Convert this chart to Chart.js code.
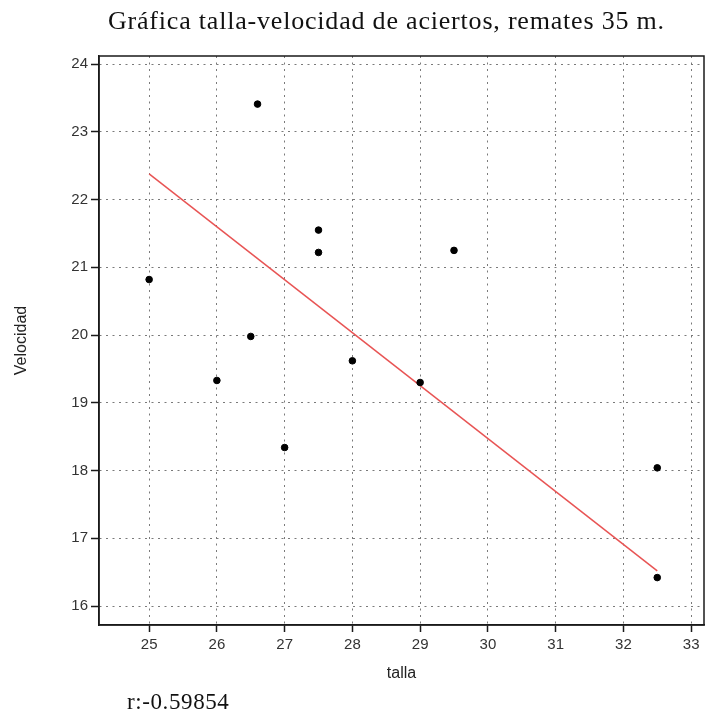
<!DOCTYPE html>
<html>
<head>
<meta charset="utf-8">
<script src="https://cdn.jsdelivr.net/npm/chart.js@4"></script>
<style>
  body { margin: 0; background: #fff; }
  #tallaChart { display: block; }
</style>
</head>
<body>
<canvas id="tallaChart" width="709" height="714"></canvas>
<script>
// data
const talla = [25, 26, 26.5, 26.6, 27, 27.5, 27.5, 28, 29, 29.5, 32.5, 32.5];
const velocidad = [20.82, 19.33, 19.98, 23.41, 18.34, 21.55, 21.22, 19.62, 19.30, 21.25, 18.04, 16.42];
// regression line ends
const ajusteX = [25, 32.5];
const ajusteY = [22.38, 16.52];
const tituloText = 'Gráfica talla-velocidad de aciertos, remates 35 m.';
const rText = 'r:-0.59854';

const toPoints = (xs, ys) => xs.map((x, i) => ({ x: x, y: ys[i] }));

// frame, title and r value
const extrasPlugin = {
  id: 'extras',
  afterDraw: (chart) => {
    const ctx = chart.ctx;
    const a = chart.chartArea;
    ctx.save();
    ctx.strokeStyle = '#1a1a1a';
    ctx.lineWidth = 1.5;
    ctx.strokeRect(a.left, a.top, a.right - a.left, a.bottom - a.top);
    ctx.fillStyle = '#111';
    ctx.font = '26px "Liberation Serif"';
    ctx.letterSpacing = '0.8px';
    ctx.textAlign = 'left';
    ctx.textBaseline = 'alphabetic';
    ctx.fillText(tituloText, 108, 29);
    ctx.font = '23px "Liberation Serif"';
    ctx.letterSpacing = '0.6px';
    ctx.fillText(rText, 127, 709);
    ctx.restore();
  }
};

const tallaChartFunc = (placeholder) => {
  var ctx = document.getElementById(placeholder).getContext('2d');
  var chart = new Chart(ctx, {
    type: 'scatter',
    plugins: [extrasPlugin],
    data: {
      datasets: [{
        label: 'datos',
        data: toPoints(talla, velocidad),
        backgroundColor: '#000',
        borderColor: '#000',
        pointRadius: 3.3,
        order: 1
      }, {
        type: 'line',
        label: 'ajuste',
        data: toPoints(ajusteX, ajusteY),
        borderColor: 'rgb(232, 84, 84)',
        borderWidth: 1.5,
        pointRadius: 0,
        fill: false,
        order: 2
      }]
    },
    options: {
      responsive: false,
      animation: false,
      layout: { padding: { top: 56, right: 5, left: 0, bottom: 0 } },
      plugins: {
        legend: { display: false },
        title: { display: false },
        tooltip: { enabled: false }
      },
      scales: {
        x: {
          type: 'linear',
          min: 24.26,
          max: 33.19,
          afterFit: (scale) => { scale.height = 89; },
          ticks: {
            stepSize: 1,
            includeBounds: false,
            color: '#333',
            padding: 4,
            maxRotation: 0,
            font: { family: 'Arial, "Liberation Sans"', size: 15 }
          },
          grid: {
            color: '#7a7a7a',
            lineWidth: 1,
            tickColor: '#1a1a1a',
            tickLength: 7,
            tickWidth: 1.5
          },
          border: { display: true, color: '#1a1a1a', width: 1.5, dash: [2, 4.5] },
          title: {
            display: true,
            text: 'talla',
            color: '#222',
            padding: { top: 0, bottom: 31 },
            font: { family: 'Arial, "Liberation Sans"', size: 16 }
          }
        },
        y: {
          type: 'linear',
          min: 15.72,
          max: 24.12,
          afterFit: (scale) => { scale.width = 99; },
          ticks: {
            stepSize: 1,
            includeBounds: false,
            color: '#333',
            padding: 3,
            font: { family: 'Arial, "Liberation Sans"', size: 15 }
          },
          grid: {
            color: '#7a7a7a',
            lineWidth: 1,
            tickColor: '#1a1a1a',
            tickLength: 8,
            tickWidth: 1.5
          },
          border: { display: true, color: '#1a1a1a', width: 1.5, dash: [2, 4.5] },
          title: {
            display: true,
            text: 'Velocidad',
            color: '#222',
            padding: { top: 12, bottom: 0 },
            font: { family: 'Arial, "Liberation Sans"', size: 16 }
          }
        }
      }
    }
  });
  return chart;
};

tallaChartFunc('tallaChart');
</script>
</body>
</html>
